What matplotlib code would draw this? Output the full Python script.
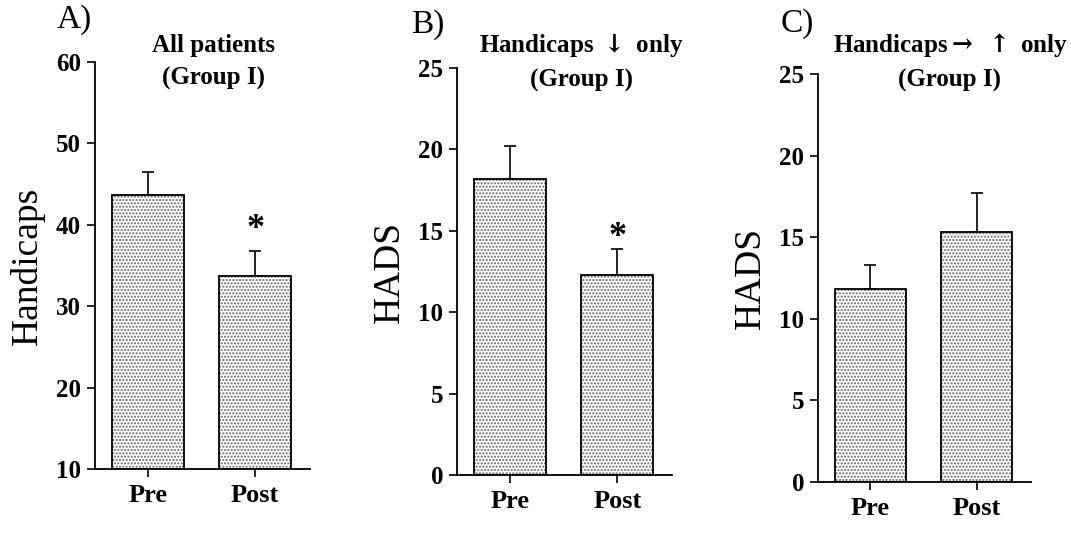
import matplotlib
matplotlib.use("Agg")
import matplotlib.pyplot as plt

# values
groups = ["Pre", "Post"]
a_means = [43.7, 33.7]
a_errs = [2.8, 3.1]
b_means = [18.2, 12.3]
b_errs = [2.0, 1.6]
c_means = [11.8, 15.3]
c_errs = [1.5, 2.4]

a_ticks = [10, 20, 30, 40, 50, 60]
hads_ticks = [0, 5, 10, 15, 20, 25]

serif = ["Liberation Serif", "DejaVu Serif"]
plt.rcParams["font.family"] = serif
plt.rcParams["mathtext.fontset"] = "dejavuserif"

fig = plt.figure(figsize=(10.71, 5.54), dpi=100)

panels = [
    # rect, means, errs, ylim, ticks, ylabel, star y
    ([0.0887, 0.1534, 0.2007, 0.7347], a_means, a_errs, (10, 60), a_ticks, "Handicaps", 39.4),
    ([0.4267, 0.1426, 0.2008, 0.7347], b_means, b_errs, (0, 25), hads_ticks, "HADS", 14.6),
    ([0.7638, 0.1300, 0.1989, 0.7365], c_means, c_errs, (0, 25), hads_ticks, "HADS", None),
]

for rect, means, errs, ylim, ticks, ylabel, star in panels:
    ax = fig.add_axes(rect)
    x = [0, 1]
    base = ylim[0]
    heights = [m - base for m in means]
    # dotted fill
    ax.bar(x, heights, bottom=base, width=0.67, color="white", hatch=".....",
           edgecolor="#666666", linewidth=0, zorder=2)
    # outline
    ax.bar(x, heights, bottom=base, width=0.67, fill=False,
           edgecolor="black", linewidth=1.3, zorder=3)
    ax.errorbar(x, means, yerr=[[0, 0], errs], fmt="none", ecolor="black",
                elinewidth=1.2, capsize=4.5, capthick=1.2, zorder=1)
    ax.set_xlim(-0.49, 1.51)
    ax.set_ylim(*ylim)
    ax.set_yticks(ticks)
    ax.set_xticks(x)
    ax.set_xticklabels(groups, fontsize=19, fontweight="bold")
    for lab in ax.get_yticklabels():
        lab.set_fontsize(18)
        lab.set_fontweight("bold")
    ax.tick_params(axis="y", length=6, width=1.2, pad=4)
    ax.tick_params(axis="x", length=6, width=1.2, pad=5)
    ax.spines["top"].set_visible(False)
    ax.spines["right"].set_visible(False)
    ax.spines["left"].set_linewidth(1.3)
    ax.spines["bottom"].set_linewidth(1.3)
    ax.set_ylabel(ylabel, fontsize=27, labelpad=8)
    if star is not None:
        ax.text(1, star, "*", ha="center", va="center", fontsize=26, fontweight="bold")

fig.text(0.069, 0.965, "A)", fontsize=24, ha="center", va="center")
fig.text(0.399, 0.956, "B)", fontsize=24, ha="center", va="center")
fig.text(0.744, 0.958, "C)", fontsize=24, ha="center", va="center")

fig.text(0.199, 0.918, "All patients", fontsize=18, fontweight="bold", ha="center", va="center")
fig.text(0.199, 0.859, "(Group I)", fontsize=18, fontweight="bold", ha="center", va="center")
fig.text(0.543, 0.918, r"Handicaps $\mathbf{\downarrow}$ only", fontsize=18, fontweight="bold",
         ha="center", va="center")
fig.text(0.543, 0.855, "(Group I)", fontsize=18, fontweight="bold", ha="center", va="center")
fig.text(0.887, 0.918, r"Handicaps$\mathbf{\rightarrow}$ $\mathbf{\uparrow}$ only", fontsize=18,
         fontweight="bold", ha="center", va="center")
fig.text(0.887, 0.855, "(Group I)", fontsize=18, fontweight="bold", ha="center", va="center")

fig.savefig("out.png", dpi=100)
